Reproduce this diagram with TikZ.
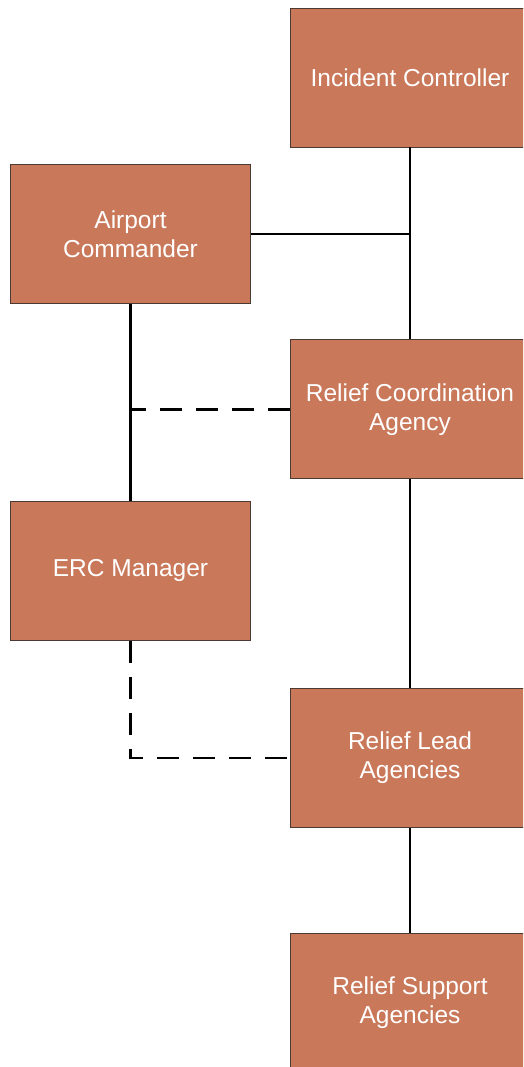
\documentclass[tikz,border=0pt]{standalone}
\usepackage{fontspec}
\setmainfont{Liberation Sans}
\usetikzlibrary{positioning}
\definecolor{boxfill}{HTML}{C9785A}
\definecolor{boxline}{HTML}{4A3A33}

\begin{document}
\begin{tikzpicture}[x=1pt,y=1pt,
	role/.style={rectangle,draw=boxline,line width=0.8pt,fill=boxfill,
		minimum width=240pt,minimum height=139pt,inner sep=0pt,
		align=center,text=white,font=\fontsize{24.5}{29}\selectfont},
	link/.style={line width=2.4pt},
	dotlink/.style={line width=2.4pt,dash pattern=on 22pt off 14pt}]
	\useasboundingbox (0,0) rectangle (523,-1067);
	\clip (0,0) rectangle (523,-1067);
	
	\node[role] (ic) at (410,-77.5) {Incident Controller};
	\node[role] (rca) [below=192pt of ic] {Relief Coordination\\Agency};
	\node[role] (rla) [below=209pt of rca] {Relief Lead\\Agencies};
	\node[role] (rsa) [below=105pt of rla] {Relief Support\\Agencies};
	\node[role] (ac) at (130.5,-234) {Airport\\Commander};
	\node[role] (erc) [below=197pt of ac] {ERC Manager};
	
	\draw[dotlink] (rca.west) -| (erc.north);
	\draw[dotlink] (erc.south) |- (rla.west);
	\draw[link] (ic) -- (rca);
	\draw[link] (ac.east) -- (ac.east -| ic.south);
	\draw[link] (ac) -- (erc);
	\draw[link] (rca) -- (rla);
	\draw[link] (rla) -- (rsa);
\end{tikzpicture}
\end{document}
